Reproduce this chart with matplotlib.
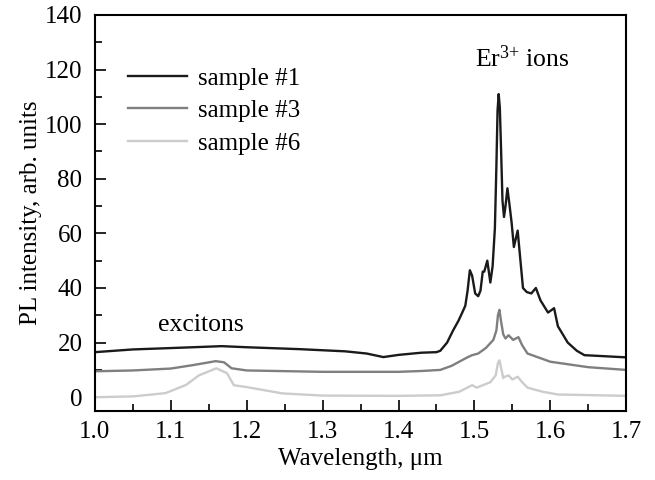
import matplotlib
matplotlib.use("Agg")
import matplotlib.pyplot as plt
from matplotlib.ticker import MultipleLocator, FormatStrFormatter

plt.rcParams['font.family'] = ['Liberation Serif', 'DejaVu Serif']
plt.rcParams['mathtext.fontset'] = 'custom'
plt.rcParams['mathtext.rm'] = 'Liberation Serif'
plt.rcParams['mathtext.it'] = 'Liberation Serif:italic'

# sample #1 (black)
wl1 = [1.00, 1.05, 1.10, 1.167, 1.20, 1.27, 1.33, 1.358, 1.38, 1.40, 1.43, 1.45, 1.455,
       1.464, 1.472, 1.479, 1.484, 1.488, 1.491, 1.494, 1.497, 1.501, 1.505, 1.508, 1.511,
       1.513, 1.517, 1.519, 1.521, 1.524, 1.527, 1.529, 1.5305, 1.532, 1.5335, 1.535,
       1.537, 1.539, 1.541, 1.5435, 1.546, 1.549, 1.552, 1.5545, 1.557, 1.560, 1.564,
       1.569, 1.575, 1.581, 1.587, 1.597, 1.605, 1.610, 1.623, 1.635, 1.645, 1.70]
s1 = [16.5, 17.5, 18.0, 18.7, 18.3, 17.6, 16.8, 16.0, 14.7, 15.5, 16.3, 16.5, 17.0,
      20.0, 24.5, 28.0, 31.0, 33.5, 39.0, 46.5, 44.5, 38.0, 37.0, 39.0, 46.0,
      46.0, 50.0, 46.0, 42.0, 48.0, 62.0, 85.0, 105.0, 111.0, 106.0, 92.0,
      72.0, 66.0, 70.0, 76.5, 71.0, 64.0, 55.0, 58.0, 61.0, 52.0, 40.0,
      38.5, 38.0, 40.0, 35.5, 31.0, 32.6, 26.0, 20.0, 17.0, 15.4, 14.6]

# sample #3 (grey)
wl3 = [1.00, 1.05, 1.10, 1.13, 1.159, 1.170, 1.180, 1.20, 1.30, 1.40, 1.43, 1.455, 1.47,
       1.490, 1.497, 1.505, 1.515, 1.525, 1.529, 1.531, 1.533, 1.535, 1.538, 1.541, 1.545,
       1.551, 1.558, 1.563, 1.570, 1.585, 1.60, 1.65, 1.70]
s3 = [9.5, 9.8, 10.5, 11.8, 13.2, 12.8, 10.6, 9.8, 9.3, 9.3, 9.6, 10.0, 11.5,
      14.5, 15.4, 16.0, 18.0, 21.0, 24.5, 30.0, 32.0, 28.0, 23.0, 21.5, 22.7,
      21.0, 22.0, 19.0, 16.0, 14.5, 13.0, 11.0, 10.0]

# sample #6 (light grey)
wl6 = [1.00, 1.05, 1.093, 1.12, 1.137, 1.160, 1.174, 1.183, 1.20, 1.247, 1.30, 1.40, 1.455,
       1.480, 1.497, 1.503, 1.521, 1.528, 1.531, 1.533, 1.535, 1.538, 1.540, 1.545, 1.550,
       1.557, 1.563, 1.570, 1.590, 1.610, 1.70]
s6 = [0.0, 0.3, 1.5, 4.5, 8.0, 10.6, 8.8, 4.4, 3.7, 1.4, 0.6, 0.5, 0.7,
      2.0, 4.4, 3.5, 5.5, 8.0, 12.5, 13.5, 11.0, 7.0, 7.5, 8.0, 6.5,
      7.5, 5.5, 3.5, 2.0, 1.0, 0.5]

labels = ['sample #1', 'sample #3', 'sample #6']
colors = ['#1a1a1a', '#7f7f7f', '#cccccc']

fig = plt.figure(figsize=(6.55, 4.8), dpi=100)
ax = fig.add_axes([0.145, 0.144, 0.811, 0.825])

for wl, s, lab, c in zip([wl1, wl3, wl6], [s1, s3, s6], labels, colors):
    ax.plot(wl, s, color=c, lw=1.7, label=lab, solid_joinstyle='round')

ax.set_xlim(1.0, 1.7)
ax.set_ylim(-5, 140)
ax.xaxis.set_major_locator(MultipleLocator(0.1))
ax.xaxis.set_minor_locator(MultipleLocator(0.05))
ax.yaxis.set_major_locator(MultipleLocator(20))
ax.yaxis.set_minor_locator(MultipleLocator(10))
ax.xaxis.set_major_formatter(FormatStrFormatter('%.1f'))
ax.tick_params(which='both', direction='in', labelsize=18, width=1.2)
ax.tick_params(which='major', length=8)
ax.tick_params(which='minor', length=5)
ax.tick_params(axis='x', which='major', pad=7)
ax.tick_params(axis='y', which='major', pad=9)
for sp in ax.spines.values():
    sp.set_linewidth(1.5)

ax.set_xlabel('Wavelength, μm', fontsize=18, labelpad=4)
ax.set_ylabel('PL intensity, arb. units', fontsize=18, labelpad=2)

ax.text(1.14, 26.5, 'excitons', fontsize=18.5, ha='center', va='center')
ax.text(1.5625, 124, r'Er$^{3{+}}$ ions', fontsize=18.5, ha='center', va='center')

leg = ax.legend(loc='upper left', bbox_to_anchor=(0.02, 0.925), frameon=False,
                fontsize=18, handlelength=2.35, handletextpad=0.45, labelspacing=0.4)

fig.savefig('out.png', dpi=100)
